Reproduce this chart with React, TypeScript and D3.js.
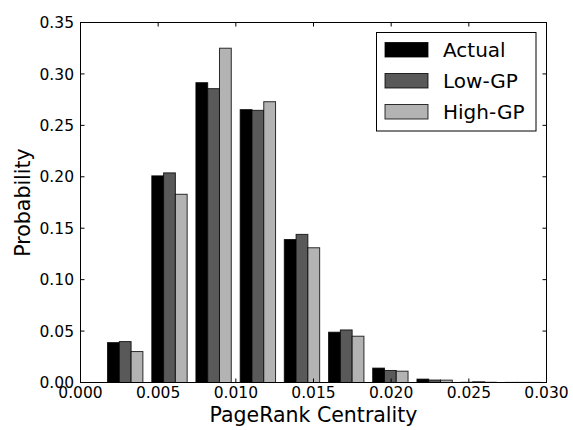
import React from "react";
import * as d3 from "d3";

// histogram bins (left edges)
const binStarts = [0.00174, 0.00459, 0.00743, 0.01028, 0.01312, 0.01597, 0.01881, 0.02166, 0.0245, 0.02735];
const binWidth = 0.002846;

const seriesNames = ["Actual", "Low-GP", "High-GP"];
const actual = [0.0388, 0.2009, 0.2915, 0.2653, 0.139, 0.0489, 0.014, 0.0033, 0.0002, 0.0001];
const lowGP = [0.0398, 0.2038, 0.2857, 0.2646, 0.144, 0.0511, 0.0117, 0.0024, 0.0007, 0.0001];
const highGP = [0.0301, 0.183, 0.325, 0.273, 0.131, 0.045, 0.011, 0.0023, 0.0002, 0.0001];

const xTicks = [0, 0.005, 0.01, 0.015, 0.02, 0.025, 0.03];
const yTicks = [0, 0.05, 0.1, 0.15, 0.2, 0.25, 0.3, 0.35];

const colors = ["#000000", "#595959", "#b3b3b3"];

const W = 573;
const H = 430;
const left = 80.5;
const right = 546.5;
const top = 22.5;
const bottom = 382.5;
const font = "DejaVu Sans, sans-serif";

export default function App() {
  const x = d3.scaleLinear().domain([0, 0.03]).range([left, right]);
  const y = d3.scaleLinear().domain([0, 0.35]).range([bottom, top]);
  const series = [actual, lowGP, highGP];
  const barW = (binWidth * 0.8) / 3;
  const tick = 4;

  return (
    <div style={{ position: "fixed", left: 0, top: 0 }}>
      <svg width={W} height={H} style={{ display: "block", background: "#fff" }}>
        {/* bars */}
        {series.map((vals, s) =>
          vals.map((v, i) => {
            const x0 = x(binStarts[i] + s * barW);
            const x1 = x(binStarts[i] + (s + 1) * barW);
            return (
              <rect
                key={`${s}-${i}`}
                x={x0}
                y={y(v)}
                width={x1 - x0}
                height={y(0) - y(v)}
                fill={colors[s]}
                stroke="#000"
                strokeWidth={1}
                strokeOpacity={0.8}
              />
            );
          })
        )}

        {/* frame */}
        <rect x={left} y={top} width={right - left} height={bottom - top} fill="none" stroke="#000" strokeWidth={1} />

        {/* x ticks */}
        {xTicks.map((t) => (
          <g key={`x${t}`}>
            <line x1={x(t)} x2={x(t)} y1={bottom} y2={bottom - tick} stroke="#000" />
            <line x1={x(t)} x2={x(t)} y1={top} y2={top + tick} stroke="#000" />
            <text x={x(t)} y={398} textAnchor="middle" fontFamily={font} fontSize={15.5} fill="#000">
              {d3.format(".3f")(t)}
            </text>
          </g>
        ))}

        {/* y ticks */}
        {yTicks.map((t) => (
          <g key={`y${t}`}>
            <line x1={left} x2={left + tick} y1={y(t)} y2={y(t)} stroke="#000" />
            <line x1={right} x2={right - tick} y1={y(t)} y2={y(t)} stroke="#000" />
            <text x={74} y={y(t)} dy="0.36em" textAnchor="end" fontFamily={font} fontSize={15.5} fill="#000">
              {d3.format(".2f")(t)}
            </text>
          </g>
        ))}

        {/* axis labels */}
        <text x={(left + right) / 2} y={422} textAnchor="middle" fontFamily={font} fontSize={20.5} fill="#000">
          PageRank Centrality
        </text>
        <text
          transform={`translate(30,${(top + bottom) / 2}) rotate(-90)`}
          textAnchor="middle"
          fontFamily={font}
          fontSize={20.5}
          fill="#000"
        >
          Probability
        </text>

        {/* legend */}
        <g>
          <rect x={376.5} y={32.5} width={159.5} height={98.5} fill="#fff" stroke="#000" strokeWidth={1} />
          {seriesNames.map((name, i) => (
            <g key={name} transform={`translate(0,${i * 31})`}>
              <rect x={385} y={42.5} width={43} height={14.5} fill={colors[i]} stroke="#000" strokeOpacity={0.8} />
              <text x={443} y={49.75} dy="0.36em" fontFamily={font} fontSize={20} fill="#000">
                {name}
              </text>
            </g>
          ))}
        </g>
      </svg>
    </div>
  );
}
